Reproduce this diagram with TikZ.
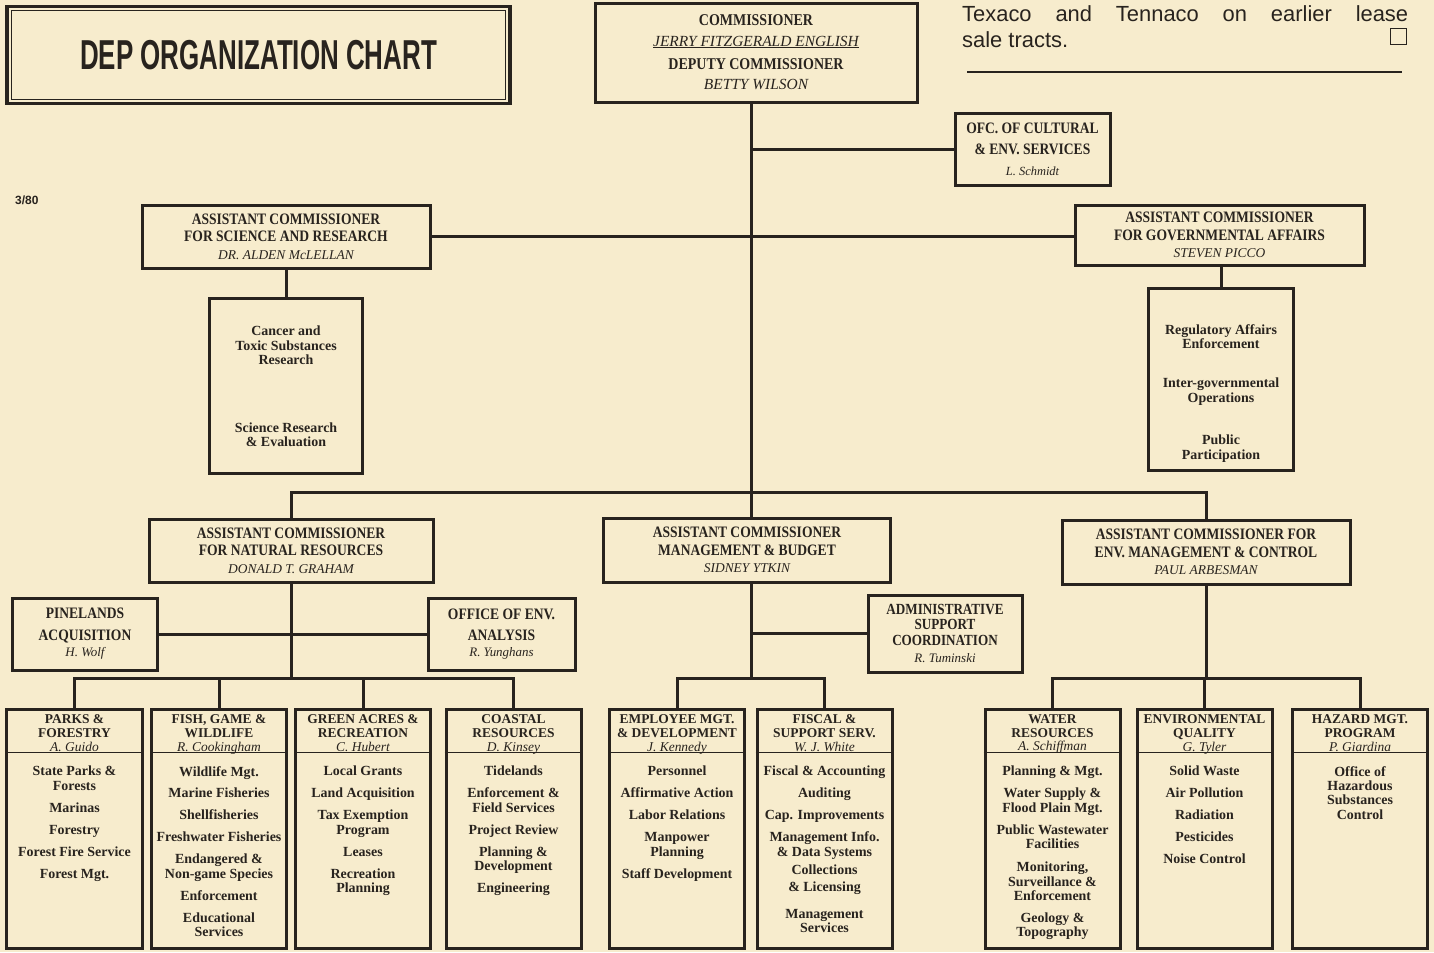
\documentclass[tikz,border=0pt]{standalone}
\usepackage{fontspec}
\setmainfont{Liberation Serif}
\newfontfamily\condfont[FakeStretch=0.85]{Liberation Serif}
\newfontfamily\titlefont[FakeStretch=0.62]{Liberation Sans}
\newfontfamily\notefont{Liberation Sans}
\definecolor{paper}{RGB}{247,236,205}
\definecolor{ink}{RGB}{40,35,30}
% names of the office holders, set in italic
\newcommand{\pname}[2][13.5]{{\rmfamily\mdseries\itshape\fontsize{#1}{14}\selectfont #2}}

\begin{document}
\begin{tikzpicture}[x=1bp, y=-1bp,
    headbox/.style={draw=ink, line width=3bp, fill=paper, inner sep=0pt, align=center, text=ink,
        font=\condfont\bfseries\fontsize{16}{17.5}\selectfont},
    divbox/.style={draw=ink, line width=3bp, fill=paper, inner sep=0pt, minimum width=135bp, minimum height=239bp},
    divhead/.style={anchor=north, align=center, inner sep=0pt, text=ink, font=\bfseries\fontsize{13.5}{14}\selectfont},
    unitlist/.style={anchor=north, align=center, inner sep=0pt, text=ink, font=\bfseries\fontsize{14}{14.5}\selectfont},
    divrule/.style={draw=ink, line width=1.2bp},
    link/.style={draw=ink, line width=3bp, line cap=rect}]
    \useasboundingbox (0,0) rectangle (1434,952);
    \fill[paper] (0,0) rectangle (1434,952);

    % titel
    \node[draw=ink, line width=3.5bp, minimum width=503bp, minimum height=97bp, inner sep=0pt, text=ink,
        font=\titlefont\bfseries\fontsize{42}{42}\selectfont] (title) at (258.5,55) {DEP ORGANIZATION CHART};
    \draw[ink, line width=1.2bp] ([xshift=6bp,yshift=-6bp]title.north west) rectangle ([xshift=-6bp,yshift=6bp]title.south east);
    \node[anchor=base west, inner sep=0pt, text=ink, font=\notefont\bfseries\fontsize{12}{12}\selectfont] (date) at (15,204) {3/80};

    % text of the page beside the chart
    \node[anchor=base west, inner sep=0pt, text=ink, font=\notefont\fontsize{22}{26}\selectfont] (note1) at (962,21)
        {\makebox[446bp][s]{Texaco and Tennaco on earlier lease}};
    \node[anchor=base west, inner sep=0pt, text=ink, font=\notefont\fontsize{22}{26}\selectfont] (note2) at (962,47) {sale tracts.};
    \node[draw=ink, line width=0.9bp, minimum size=16bp, inner sep=0pt] (endmark) at (1398.5,36.5) {};
    \draw[ink, line width=1.6bp] (967,72) -- (1402,72);

    % commissioner
    \node[headbox, minimum width=322bp, minimum height=99bp, font=\condfont\bfseries\fontsize{16.5}{20.5}\selectfont] (comm) at (756,52.5)
        {COMMISSIONER\\\pname[15.5]{\underline{JERRY FITZGERALD ENGLISH}}\\[3bp]DEPUTY COMMISSIONER\\\pname[15.5]{BETTY WILSON}};
    \node[headbox, minimum width=155bp, minimum height=72bp, font=\condfont\bfseries\fontsize{16}{21}\selectfont] (ofc) at (1032.5,149)
        {OFC. OF CULTURAL\\\& ENV. SERVICES\\\pname[12.5]{L. Schmidt}};

    % assistant commissioners
    \node[headbox, minimum width=288bp, minimum height=63bp] (sci) at (286,236.5)
        {ASSISTANT COMMISSIONER\\FOR SCIENCE AND RESEARCH\\\pname{DR. ALDEN McLELLAN}};
    \node[headbox, minimum width=289bp, minimum height=60bp] (gov) at (1219.5,235)
        {ASSISTANT COMMISSIONER\\FOR GOVERNMENTAL AFFAIRS\\\pname{STEVEN PICCO}};
    \node[headbox, minimum width=284bp, minimum height=63bp] (nr) at (291,550.5)
        {ASSISTANT COMMISSIONER\\FOR NATURAL RESOURCES\\\pname{DONALD T. GRAHAM}};
    \node[headbox, minimum width=287bp, minimum height=64bp] (mb) at (747,550)
        {ASSISTANT COMMISSIONER\\MANAGEMENT \& BUDGET\\\pname{SIDNEY YTKIN}};
    \node[headbox, minimum width=288bp, minimum height=64bp] (emc) at (1206,552)
        {ASSISTANT COMMISSIONER FOR\\ENV. MANAGEMENT \& CONTROL\\\pname{PAUL ARBESMAN}};

    % units under science and governmental affairs
    \node[headbox, minimum width=153bp, minimum height=175bp] (scisub) at (286,385.5) {};
    \node[unitlist] (scilist) at (286,326) {Cancer and\\Toxic Substances\\Research\\[53bp]Science Research\\\& Evaluation};
    \node[headbox, minimum width=145bp, minimum height=182bp] (govsub) at (1221,379) {};
    \node[unitlist] (govlist) at (1221,324) {Regulatory Affairs\\Enforcement\\[25bp]Inter-governmental\\Operations\\[28bp]Public\\Participation};

    % staff offices
    \node[headbox, minimum width=144bp, minimum height=72bp, font=\condfont\bfseries\fontsize{16}{16}\selectfont] (pine) at (85,634)
        {PINELANDS\\[6bp]ACQUISITION\\\pname[13]{H. Wolf}};
    \node[headbox, minimum width=147bp, minimum height=72bp, font=\condfont\bfseries\fontsize{16}{16}\selectfont] (oea) at (501.5,634)
        {OFFICE OF ENV.\\[5bp]ANALYSIS\\\pname[13]{R. Yunghans}};
    \node[headbox, minimum width=154bp, minimum height=77bp, font=\condfont\bfseries\fontsize{15.5}{15.5}\selectfont] (admin) at (945,633.5)
        {ADMINISTRATIVE\\SUPPORT\\COORDINATION\\[2bp]\pname[13]{R. Tuminski}};

    % divisions
    \foreach \nm/\cx/\hd/\who/\subs in {
        parks/74.5/{PARKS \&\\FORESTRY}/{A. Guido}/{State Parks \&\\Forests\\[7.5bp]Marinas\\[7.5bp]Forestry\\[7.5bp]Forest Fire Service\\[7.5bp]Forest Mgt.},
        fish/219/{FISH, GAME \&\\WILDLIFE}/{R. Cookingham}/{Wildlife Mgt.\\[7.5bp]Marine Fisheries\\[7.5bp]Shellfisheries\\[7.5bp]Freshwater Fisheries\\[7.5bp]Endangered \&\\Non-game Species\\[7.5bp]Enforcement\\[7.5bp]Educational\\Services},
        green/363/{GREEN ACRES \&\\RECREATION}/{C. Hubert}/{Local Grants\\[7.5bp]Land Acquisition\\[7.5bp]Tax Exemption\\Program\\[7.5bp]Leases\\[7.5bp]Recreation\\Planning},
        coastal/513.5/{COASTAL\\RESOURCES}/{D. Kinsey}/{Tidelands\\[7.5bp]Enforcement \&\\Field Services\\[7.5bp]Project Review\\[7.5bp]Planning \&\\Development\\[7.5bp]Engineering},
        emp/677/{EMPLOYEE MGT.\\\& DEVELOPMENT}/{J. Kennedy}/{Personnel\\[7.5bp]Affirmative Action\\[7.5bp]Labor Relations\\[7.5bp]Manpower\\Planning\\[7.5bp]Staff Development},
        fiscal/824.5/{FISCAL \&\\SUPPORT SERV.}/{W. J. White}/{Fiscal \& Accounting\\[7.5bp]Auditing\\[7.5bp]Cap. Improvements\\[7.5bp]Management Info.\\\& Data Systems\\[4bp]Collections\\[2.5bp]\& Licensing\\[12bp]Management\\Services},
        water/1052.5/{WATER\\RESOURCES}/{A. Schiffman}/{Planning \& Mgt.\\[7.5bp]Water Supply \&\\Flood Plain Mgt.\\[7.5bp]Public Wastewater\\Facilities\\[8.5bp]Monitoring,\\Surveillance \&\\Enforcement\\[7.5bp]Geology \&\\Topography},
        envq/1204.5/{ENVIRONMENTAL\\QUALITY}/{G. Tyler}/{Solid Waste\\[7.5bp]Air Pollution\\[7.5bp]Radiation\\[7.5bp]Pesticides\\[7.5bp]Noise Control},
        hazard/1360/{HAZARD MGT.\\PROGRAM}/{P. Giardina}/{Office of\\Hazardous\\Substances\\Control}} {
        \node[divbox] (\nm) at (\cx,828.5) {};
        \node[divhead] (\nm-head) at (\cx,714) {\hd\\\pname{\who}};
        \draw[divrule] ([yshift=-45bp]\nm.north west) -- ([yshift=-45bp]\nm.north east);
        \node[unitlist] (\nm-list) at (\cx,766) {\subs};
    }

    % lines of authority
    \coordinate (trunk) at (751,492);
    \draw[link] (comm.south -| trunk) -- (mb.north -| trunk);
    \draw[link] (ofc.west -| trunk) -- (ofc.west);
    \draw[link] (sci.east) -- (sci.east -| gov.west);
    \draw[link] (sci.south -| scisub.north) -- (scisub.north);
    \draw[link] (gov.south -| govsub.north) -- (govsub.north);
    \draw[link] (nr.north) |- (trunk) -| (emc.north);

    \coordinate (nrfork) at (291,678);
    \draw[link] (nr.south) -- (nrfork);
    \draw[link] (pine.east) -- (pine.east -| nrfork);
    \draw[link] (oea.west) -- (oea.west -| nrfork);
    \draw[link] (parks.north) |- (nrfork) -| (coastal.north);
    \draw[link] (fish.north) -- (fish.north |- nrfork);
    \draw[link] (green.north) -- (green.north |- nrfork);

    \coordinate (mbfork) at (751,678);
    \draw[link] (mb.south -| mbfork) -- (mbfork);
    \draw[link] (admin.west) -- (admin.west -| mbfork);
    \draw[link] (emp.north) |- (mbfork) -| (fiscal.north);

    \coordinate (emcfork) at (1206,678);
    \draw[link] (emc.south) -- (emcfork);
    \draw[link] (water.north) |- (emcfork) -| (hazard.north);
    \draw[link] (envq.north) -- (envq.north |- emcfork);
\end{tikzpicture}
\end{document}
